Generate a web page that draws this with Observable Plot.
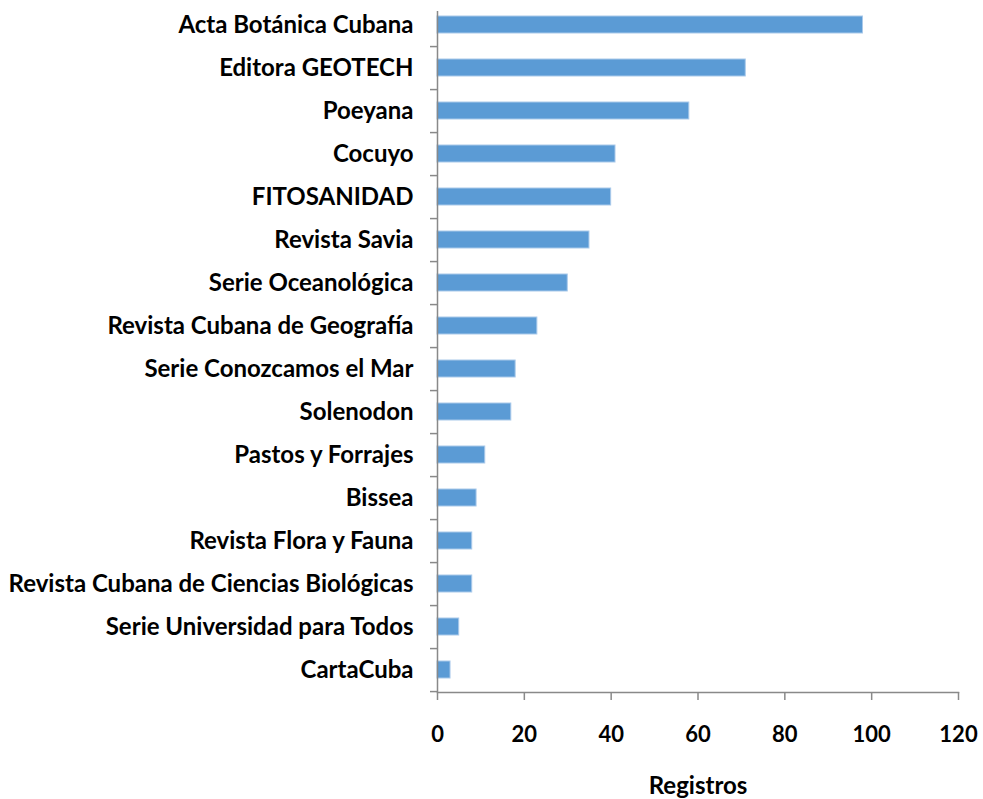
<!DOCTYPE html>
<html><head><meta charset="utf-8">
<script src="https://cdn.jsdelivr.net/npm/d3@7"></script>
<script src="https://cdn.jsdelivr.net/npm/@observablehq/plot@0.6"></script>
<style>body{margin:0;background:#fff}</style>
</head><body><div id="chart"></div>
<script>
const categories = [
  "Acta Botánica Cubana",
  "Editora GEOTECH",
  "Poeyana",
  "Cocuyo",
  "FITOSANIDAD",
  "Revista Savia",
  "Serie Oceanológica",
  "Revista Cubana de Geografía",
  "Serie Conozcamos el Mar",
  "Solenodon",
  "Pastos y Forrajes",
  "Bissea",
  "Revista Flora y Fauna",
  "Revista Cubana de Ciencias Biológicas",
  "Serie Universidad para Todos",
  "CartaCuba"
];
const values = [98, 71, 58, 41, 40, 35, 30, 23, 18, 17, 11, 9, 8, 8, 5, 3];
const xTicks = [0, 20, 40, 60, 80, 100, 120];
const xLabel = "Registros";

const data = categories.map((c, i) => ({revista: c, registros: values[i]}));
const W = 983, H = 799, mTop = 11, mBottom = 107, mLeft = 437, mRight = 25;
const yRange = [1.5, H - mBottom];
const step = (yRange[1] - yRange[0]) / categories.length;
const axisGray = "#898989";

const chart = Plot.plot({
  width: W, height: H,
  marginLeft: mLeft, marginRight: mRight, marginTop: mTop, marginBottom: mBottom,
  style: {fontFamily: "Lato, sans-serif", fontWeight: "bold", fontSize: "23px", color: "#000", background: "#fff"},
  x: {domain: [0, 120], ticks: xTicks},
  y: {domain: categories, range: yRange, paddingInner: 0.6, paddingOuter: 0.3, align: 0.5},
  marks: [
    Plot.barX(data, {x: "registros", y: "revista", fill: "#5b9bd5", stroke: "#a9c9ea", strokeWidth: 1}),
    Plot.ruleX([0], {stroke: axisGray, strokeWidth: 1.5}),
    Plot.frame({anchor: "bottom", stroke: axisGray, strokeWidth: 1.5}),
    Plot.axisY({tickSize: 0, tickPadding: 24, fontSize: 24, label: null}),
    Plot.axisY({tickSize: 7, tickFormat: () => "", dy: step / 2, stroke: axisGray, strokeWidth: 1.5, label: null}),
    Plot.axisX({ticks: xTicks, tickSize: 8, tickPadding: 26, fontSize: 22, stroke: axisGray, strokeWidth: 1.5, label: null}),
    Plot.axisX({ticks: [], tickSize: 0, fontSize: 24,
      label: xLabel, labelAnchor: "center", labelArrow: "none", labelOffset: 101})
  ]
});
document.getElementById("chart").append(chart);
</script>
</body></html>
